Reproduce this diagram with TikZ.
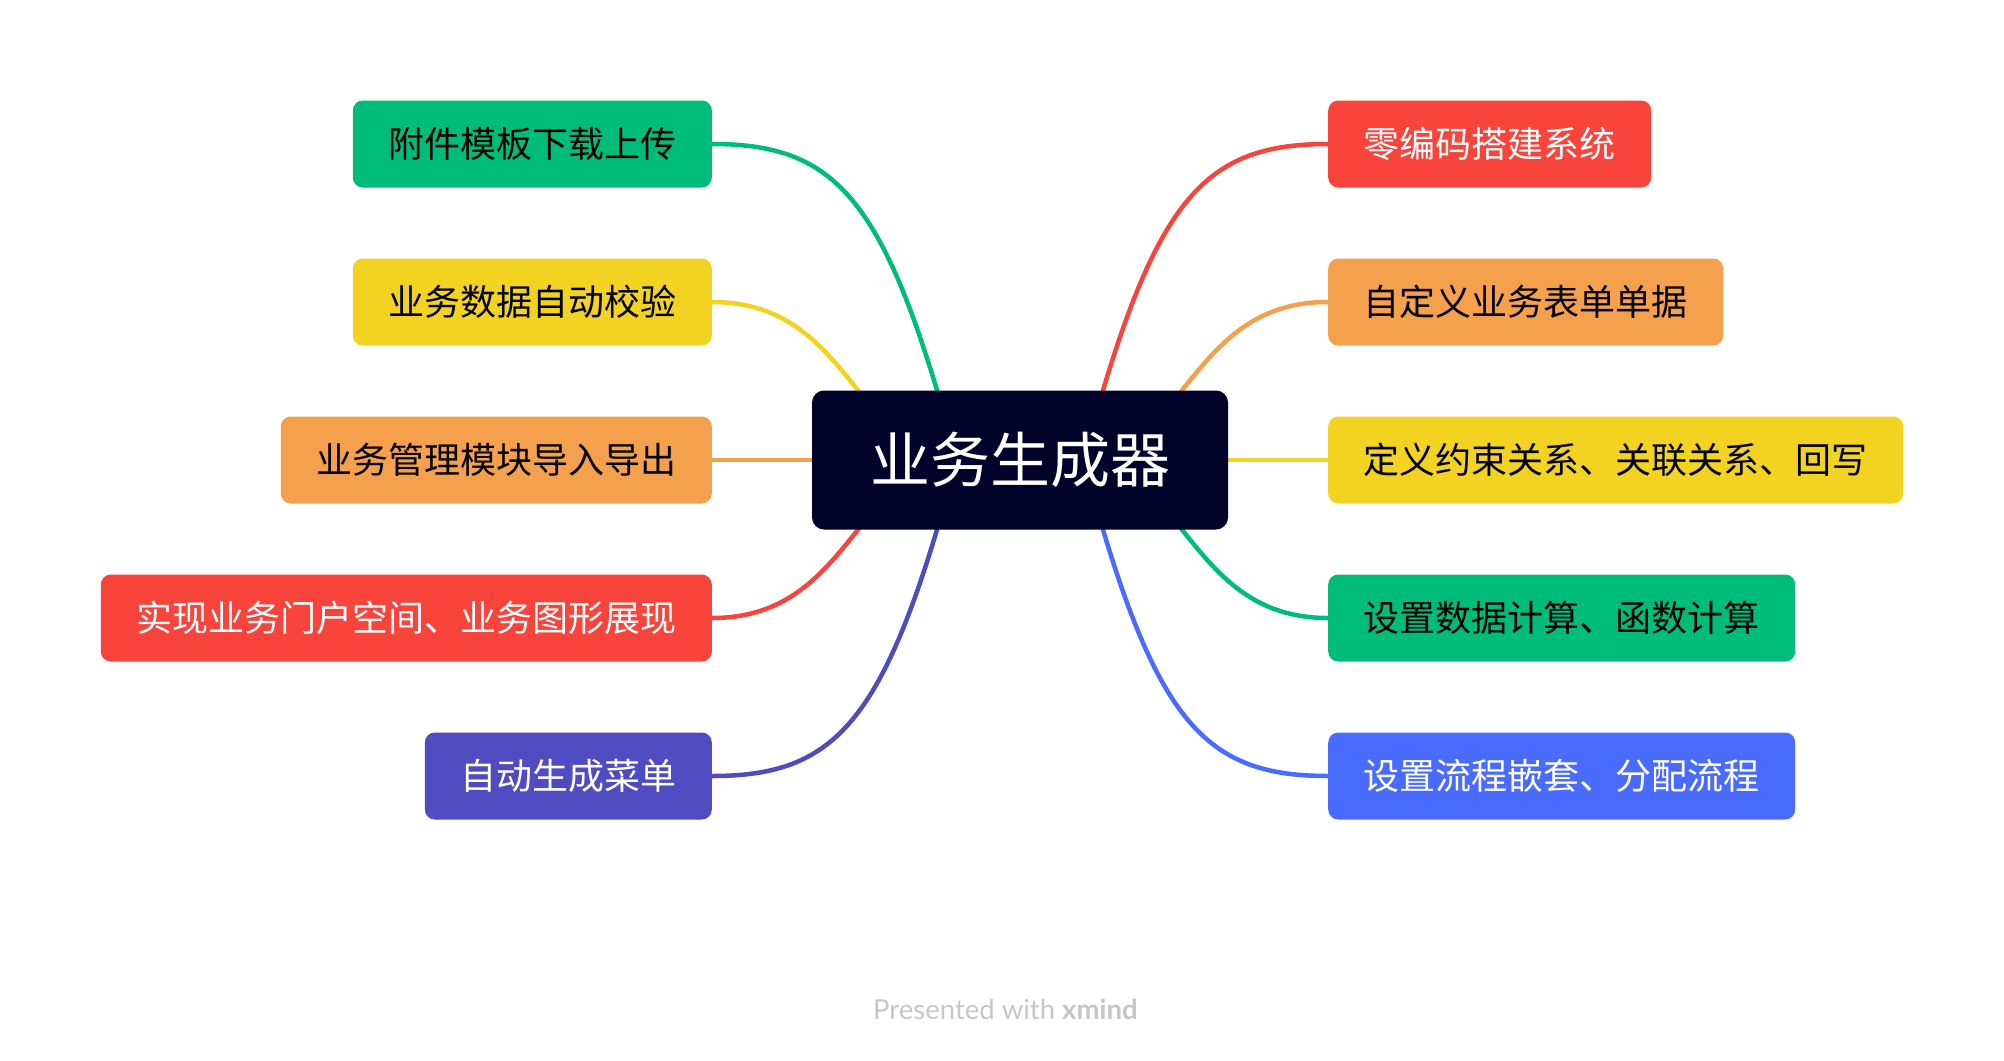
\documentclass[tikz,border=0pt]{standalone}
\usepackage{fontspec}
\setmainfont{Noto Sans CJK SC}
\newfontfamily\footfont{Lato}
\usetikzlibrary{calc}
\definecolor{cgreen}{HTML}{00BC7B}
\definecolor{cyellow}{HTML}{F2D321}
\definecolor{corange}{HTML}{F5A04D}
\definecolor{cred}{HTML}{F9443C}
\definecolor{cpurple}{HTML}{4F4BC0}
\definecolor{cblue}{HTML}{4A6BFF}
\definecolor{cnavy}{HTML}{000229}
\definecolor{cfoot}{HTML}{C6C6C6}
\pgfdeclarelayer{bg}
\pgfsetlayers{bg,main}
\begin{document}
\begin{tikzpicture}[x=1pt,y=-1pt,
  topic/.style={rounded corners=10pt, inner xsep=35.5pt, inner ysep=0pt,
    minimum height=87pt, text=black,
    font=\fontsize{36}{40}\selectfont, text height=28.1pt, text depth=0.7pt},
  central/.style={rounded corners=12pt, fill=cnavy, text=white,
    minimum width=416pt, minimum height=139pt, inner sep=0pt,
    font=\fontsize{60}{66}\selectfont, text height=46.8pt, text depth=1.2pt},
  branch/.style={line width=4.5pt}
]
\useasboundingbox (0,0) rectangle (2004,1060);

\node[central] (c) at (1020,460) {业务生成器};

\node[topic, fill=cgreen, anchor=east] (l1) at (712,144) {附件模板下载上传};
\node[topic, fill=cyellow, anchor=east] (l2) at (712,302) {业务数据自动校验};
\node[topic, fill=corange, anchor=east] (l3) at (712,460) {业务管理模块导入导出};
\node[topic, fill=cred, text=white, anchor=east] (l4) at (712,618) {实现业务门户空间、业务图形展现};
\node[topic, fill=cpurple, text=white, anchor=east] (l5) at (712,776) {自动生成菜单};

\node[topic, fill=cred, text=white, anchor=west] (r1) at (1328,144) {零编码搭建系统};
\node[topic, fill=corange, anchor=west] (r2) at (1328,302) {自定义业务表单单据};
\node[topic, fill=cyellow, anchor=west] (r3) at (1328,460) {定义约束关系、关联关系、回写};
\node[topic, fill=cgreen, anchor=west] (r4) at (1328,618) {设置数据计算、函数计算};
\node[topic, fill=cblue, text=white, anchor=west] (r5) at (1328,776) {设置流程嵌套、分配流程};

\coordinate (a1) at ([xshift=-83pt]c.north);
\coordinate (a2) at ([xshift=-162pt]c.north);
\coordinate (a4) at ([xshift=-162pt]c.south);
\coordinate (a5) at ([xshift=-83pt]c.south);
\coordinate (b1) at ([xshift=83pt]c.north);
\coordinate (b2) at ([xshift=162pt]c.north);
\coordinate (b4) at ([xshift=162pt]c.south);
\coordinate (b5) at ([xshift=83pt]c.south);

\begin{pgfonlayer}{bg}
\draw[branch, cgreen] (l1.east) .. controls +(115,0) and +(-60,-200) .. (a1) -- +(6,20);
\draw[branch, cyellow] (l2.east) .. controls +(75,0) and +(-36,-45) .. (a2) -- +(16,20);
\draw[branch, corange] (l3.east) -- (c.west);
\draw[branch, cred] (l4.east) .. controls +(75,0) and +(-36,45) .. (a4) -- +(16,-20);
\draw[branch, cpurple] (l5.east) .. controls +(115,0) and +(-60,200) .. (a5) -- +(6,-20);

\draw[branch, cred] (r1.west) .. controls +(-115,0) and +(60,-200) .. (b1) -- +(-6,20);
\draw[branch, corange] (r2.west) .. controls +(-75,0) and +(36,-45) .. (b2) -- +(-16,20);
\draw[branch, cyellow] (r3.west) -- (c.east);
\draw[branch, cgreen] (r4.west) .. controls +(-75,0) and +(36,45) .. (b4) -- +(-16,-20);
\draw[branch, cblue] (r5.west) .. controls +(-115,0) and +(60,200) .. (b5) -- +(-6,-20);
\end{pgfonlayer}

\node[anchor=base west, inner sep=0pt, text=cfoot, font=\footfont\fontsize{27.5}{32}\selectfont] (ft) at (873,1019) {Presented with \textbf{xmind}};
\end{tikzpicture}
\end{document}
